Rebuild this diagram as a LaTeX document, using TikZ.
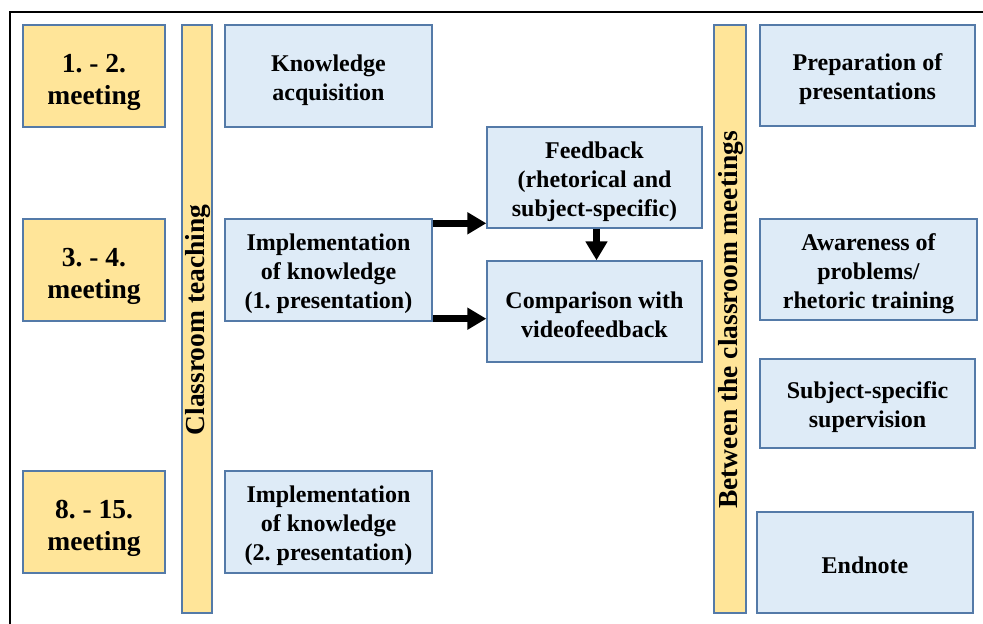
\documentclass[tikz,border=0pt]{standalone}
\usepackage{fontspec}
\setmainfont{Liberation Serif}
\usetikzlibrary{arrows.meta,calc}
\definecolor{ybox}{RGB}{255,229,153}
\definecolor{bbox}{RGB}{222,235,247}
\definecolor{edgec}{RGB}{84,122,168}
\frenchspacing
\tikzset{
  basebox/.style={draw=edgec, line width=1.4pt, inner sep=0pt},
  meetbox/.style={basebox, fill=ybox, minimum width=142pt, minimum height=102pt},
  barbox/.style={basebox, fill=ybox, minimum height=588pt},
  bluebox/.style={basebox, fill=bbox},
  bigtext/.style={inner sep=0pt, align=center, font=\fontsize{27.5}{32}\selectfont\bfseries\frenchspacing},
  smalltext/.style={inner sep=0pt, align=center, font=\fontsize{24}{29}\selectfont\bfseries\frenchspacing},
  bigarrow/.style={line width=7pt, -{Triangle[width=21pt,length=19pt]}}
}
\begin{document}
\begin{tikzpicture}[x=1pt,y=-1pt]
\useasboundingbox (0,0) rectangle (983,624);
% partial frame
\draw[line width=2pt] (10,624) -- (10,12) -- (983,12);
% meetings
\node[meetbox] (m1) at (94,76) {};
\node[bigtext] (m1t) at ([yshift=-6pt]m1.center) {1. - 2.\\meeting};
\node[meetbox] (m2) at (94,270) {};
\node[bigtext] (m2t) at ([yshift=-6pt]m2.center) {3. - 4.\\meeting};
\node[meetbox] (m3) at (94,522) {};
\node[bigtext] (m3t) at ([yshift=-6pt]m3.center) {8. - 15.\\meeting};
% bars
\node[barbox, minimum width=30pt] (ct) at (197,319) {};
\node[bigtext, rotate=90] (ctt) at ([xshift=1pt,yshift=-1pt]ct.center) {Classroom teaching};
\node[barbox, minimum width=32pt] (bt) at (730,319) {};
\node[bigtext, rotate=90] (btt) at ([xshift=1pt,yshift=-1pt]bt.center) {Between the classroom meetings};
% left blue column
\node[bluebox, minimum width=207pt, minimum height=102pt] (ka) at (328.5,76) {};
\node[smalltext] (kat) at ([yshift=-4pt]ka.center) {Knowledge\\acquisition};
\node[bluebox, minimum width=207pt, minimum height=102pt] (i1) at (328.5,270) {};
\node[smalltext] (i1t) at ([yshift=-4pt]i1.center) {Implementation\\of knowledge\\(1. presentation)};
\node[bluebox, minimum width=207pt, minimum height=102pt] (i2) at (328.5,522) {};
\node[smalltext] (i2t) at ([yshift=-4pt]i2.center) {Implementation\\of knowledge\\(2. presentation)};
% middle
\node[bluebox, minimum width=215pt, minimum height=101pt] (fb) at (594.5,177.5) {};
\node[smalltext] (fbt) at ([yshift=-4pt]fb.center) {Feedback\\(rhetorical and\\subject-specific)};
\node[bluebox, minimum width=215pt, minimum height=101pt] (cmp) at (594.5,311.5) {};
\node[smalltext] (cmpt) at ([yshift=-3pt]cmp.center) {Comparison with\\videofeedback};
% right column
\node[bluebox, minimum width=215pt, minimum height=101pt] (pp) at (867.5,75.5) {};
\node[smalltext] (ppt) at ([yshift=-4pt]pp.center) {Preparation of\\presentations};
\node[bluebox, minimum width=217pt, minimum height=101pt] (aw) at (868.5,269.5) {};
\node[smalltext] (awt) at ([yshift=-4pt]aw.center) {Awareness of\\problems/\\rhetoric training};
\node[bluebox, minimum width=215pt, minimum height=89pt] (ss) at (867.5,403.5) {};
\node[smalltext] (sst) at ([yshift=-4pt]ss.center) {Subject-specific\\supervision};
\node[bluebox, minimum width=216pt, minimum height=101pt] (en) at (865,562.5) {};
\node[smalltext] (ent) at ([yshift=-3pt]en.center) {Endnote};
% arrows
\draw[bigarrow] ([yshift=-5pt]i1.north east) -- ([yshift=-5pt]i1.north east -| fb.west);
\draw[bigarrow] ([yshift=3pt]i1.south east) -- ([yshift=3pt]i1.south east -| cmp.west);
\draw[bigarrow] ([xshift=2pt]fb.south) -- ([xshift=2pt]cmp.north);
\end{tikzpicture}
\end{document}
